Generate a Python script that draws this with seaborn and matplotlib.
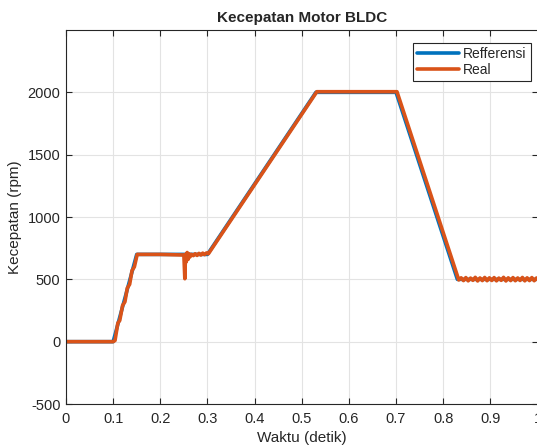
import matplotlib
matplotlib.use("Agg")
import matplotlib.pyplot as plt
import seaborn as sns
import pandas as pd

# Reference (setpoint) profile
ref_t = [0.0, 0.10, 0.15, 0.30, 0.53, 0.70, 0.83, 1.0]
ref_v = [0, 0, 700, 700, 2000, 2000, 500, 500]

# Measured (real) speed
real_t = [0.0, 0.100, 0.104, 0.110, 0.114, 0.120, 0.125, 0.130, 0.135, 0.140, 0.145, 0.151,
          0.200, 0.250, 0.252, 0.2535, 0.255, 0.257, 0.259, 0.261, 0.263, 0.266, 0.270,
          0.274, 0.278, 0.282, 0.286, 0.290, 0.294, 0.298, 0.302, 0.532, 0.702, 0.833,
          0.838, 0.843, 0.848, 0.853, 0.858, 0.863, 0.868, 0.873, 0.878, 0.883, 0.888,
          0.893, 0.898, 0.903, 0.908, 0.913, 0.918, 0.923, 0.928, 0.933, 0.938, 0.943,
          0.948, 0.953, 0.958, 0.963, 0.968, 0.973, 0.978, 0.983, 0.988, 0.993, 0.998, 1.0]
real_v = [0, 0, 10, 150, 170, 290, 320, 430, 460, 570, 600, 700,
          700, 695, 505, 700, 640, 715, 660, 705, 680, 700, 690,
          705, 692, 708, 695, 710, 698, 712, 705, 2005, 2005, 495,
          512, 490, 514, 488, 510, 492, 516, 487, 511, 490, 515,
          489, 512, 491, 514, 488, 510, 492, 516, 487, 512, 490,
          514, 489, 511, 491, 515, 488, 512, 490, 514, 489, 511, 500]

df = pd.concat([
    pd.DataFrame({"t": ref_t, "v": ref_v, "series": "Refferensi"}),
    pd.DataFrame({"t": real_t, "v": real_v, "series": "Real"}),
], ignore_index=True)

sns.set_style("white")
plt.rcParams["font.family"] = ["Liberation Sans", "DejaVu Sans"]
plt.rcParams["axes.unicode_minus"] = False

fig = plt.figure(figsize=(5.37, 4.48), dpi=100)
ax = fig.add_axes([66 / 537, 44 / 448, 471.5 / 537, 374 / 448])

sns.lineplot(data=df, x="t", y="v", hue="series", sort=False,
             palette={"Refferensi": "#0072BD", "Real": "#D95319"},
             linewidth=2.6, ax=ax, estimator=None)

ax.set_xlim(0, 1)
ax.set_ylim(-500, 2500)
ax.set_xticks([0, 0.1, 0.2, 0.3, 0.4, 0.5, 0.6, 0.7, 0.8, 0.9, 1.0])
ax.set_xticklabels(["0", "0.1", "0.2", "0.3", "0.4", "0.5", "0.6", "0.7", "0.8", "0.9", "1"])
ax.set_yticks([-500, 0, 500, 1000, 1500, 2000])
ax.set_yticklabels(["-500", "0", "500", "1000", "1500", "2000"])
ax.grid(True, color="#e3e3e3", linewidth=0.8)
ax.set_axisbelow(True)
for s in ax.spines.values():
    s.set_color("#262626")
    s.set_linewidth(0.8)
ax.tick_params(direction="in", length=4, width=0.8, colors="#262626",
               labelcolor="#262626", labelsize=10.5, top=True, right=True,
               bottom=True, left=True)
ax.tick_params(axis="x", pad=6)
ax.tick_params(axis="y", pad=4)

ax.set_title("Kecepatan Motor BLDC", fontsize=11, fontweight="bold", pad=6)
ax.set_xlabel("Waktu (detik)", fontsize=11, color="#262626", labelpad=3)
ax.set_ylabel("Kecepatan (rpm)", fontsize=11, color="#262626", labelpad=4)

leg = ax.legend(loc="upper right", bbox_to_anchor=(0.986, 0.966), borderaxespad=0,
                fontsize=10, frameon=True, fancybox=False, framealpha=1,
                edgecolor="#262626", handlelength=3.0, handletextpad=0.3,
                labelspacing=0.15, borderpad=0.3, title=None)
leg.get_frame().set_linewidth(0.8)
for line in leg.get_lines():
    line.set_linewidth(2.6)

fig.savefig("out.png", dpi=100)
